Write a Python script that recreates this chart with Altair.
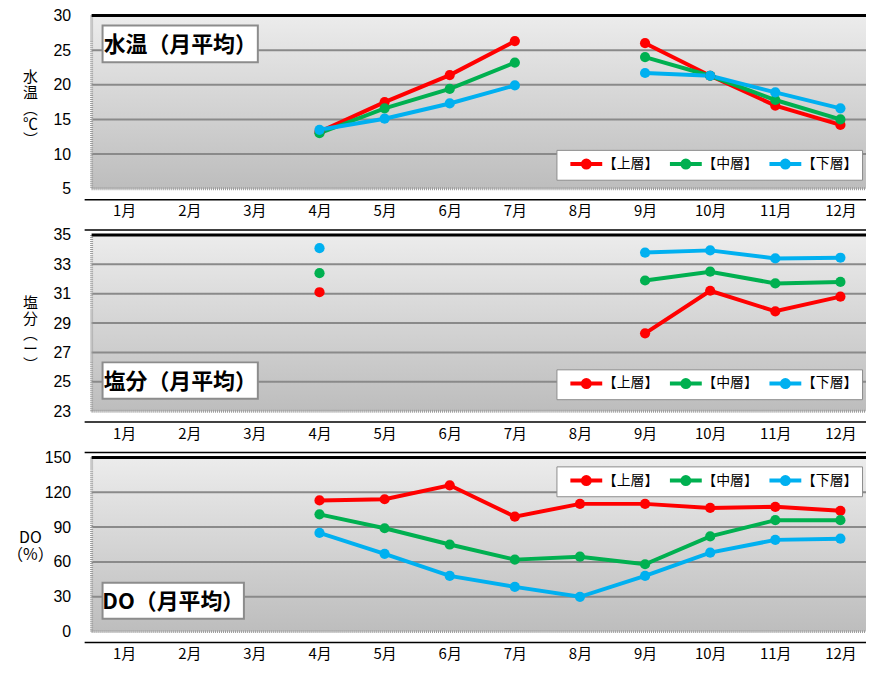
import altair as alt
import pandas as pd

# ---------------- data ----------------
months = ["1月", "2月", "3月", "4月", "5月", "6月", "7月", "8月", "9月", "10月", "11月", "12月"]
series = ["【上層】", "【中層】", "【下層】"]
colors = ["#ff0000", "#00b050", "#00b0f0"]

temp_upper = [None, None, None, 13.2, 17.5, 21.4, 26.3, None, 26.0, 21.3, 17.0, 14.2]
temp_middle = [None, None, None, 13.0, 16.6, 19.4, 23.2, None, 24.0, 21.3, 17.8, 15.0]
temp_lower = [None, None, None, 13.5, 15.1, 17.3, 19.9, None, 21.7, 21.3, 18.9, 16.6]

sal_upper = [None, None, None, 31.1, None, None, None, None, 28.3, 31.2, 29.8, 30.8]
sal_middle = [None, None, None, 32.4, None, None, None, None, 31.9, 32.5, 31.7, 31.8]
sal_lower = [None, None, None, 34.1, None, None, None, None, 33.8, 33.95, 33.4, 33.45]

do_upper = [None, None, None, 113, 114, 126, 99, 110, 110, 106.5, 107.5, 104]
do_middle = [None, None, None, 101, 89, 75, 62, 64.5, 58, 82, 96, 96]
do_lower = [None, None, None, 85, 67, 48, 38.5, 30, 48, 68, 79, 80]

temp_ticks = [5, 10, 15, 20, 25, 30]
sal_ticks = [23, 25, 27, 29, 31, 33, 35]
do_ticks = [0, 30, 60, 90, 120, 150]

FONT = "Noto Sans CJK JP"
NUMFONT = "Liberation Sans"
W = 785

# legend symbol: line from 0..4 units with a filled dot at 2 units
LEGEND_PATH = ("M0,0L4,0"
               "M1.81,0a0.19,0.19 0 1,0 0.38,0a0.19,0.19 0 1,0 -0.38,0"
               "M1.56,0a0.44,0.44 0 1,0 0.88,0a0.44,0.44 0 1,0 -0.88,0")


def long_df(vals_list):
    rows = []
    for name, vals in zip(series, vals_list):
        seg = 0
        prev_missing = True
        for m, v in zip(months, vals):
            if v is None:
                prev_missing = True
                continue
            if prev_missing:
                seg += 1
            prev_missing = False
            rows.append({"month": m, "series": name, "value": v, "seg": f"{name}{seg}"})
    return pd.DataFrame(rows)


def panel(df, ticks, H, ytitle, title_x, title_y, line_h, title_fs, box, title_text,
          legend_xy, top_line=False):
    one = pd.DataFrame({"k": [0]})
    ydef = alt.Y(
        "value:Q",
        scale=alt.Scale(domain=[ticks[0], ticks[-1]], nice=False, zero=False),
        axis=alt.Axis(
            values=ticks, grid=False, domain=False, ticks=False,
            labelPadding=21, labelFontSize=16, labelFont=NUMFONT,
            labelColor="black", labelFlush=False,
            title=ytitle, titleAngle=0, titleAlign="center",
            titleBaseline="top", titleX=title_x, titleY=title_y,
            titleFontSize=title_fs, titleFontWeight="normal", titleFont=FONT,
            titleColor="black", titleLineHeight=line_h,
        ),
    )
    xdef = alt.X(
        "month:O",
        sort=months,
        scale=alt.Scale(type="point", domain=months, padding=0.5),
        axis=alt.Axis(domain=False, ticks=False, grid=False, offset=11,
                      labelPadding=4, labelFontSize=15, labelFont=FONT,
                      labelAngle=0, labelColor="black", title=None),
    )
    cscale = alt.Scale(domain=series, range=colors)

    bg = alt.Chart(one).mark_rect(
        fill=alt.Gradient(
            gradient="linear",
            stops=[alt.GradientStop(color="#ececec", offset=0),
                   alt.GradientStop(color="#bdbdbd", offset=1)],
            x1=0, x2=0, y1=0, y2=1),
    ).encode(x=alt.value(0), x2=alt.value(W), y=alt.value(0), y2=alt.value(H))

    grid = alt.Chart(pd.DataFrame({"value": ticks[1:-1]})).mark_rule(
        color="#8a8a8a", strokeWidth=2
    ).encode(y=ydef, x=alt.value(0), x2=alt.value(W))

    bottom = alt.Chart(one).mark_rule(color="#9c9c9c", strokeWidth=3, strokeDash=[1, 1]).encode(
        x=alt.value(0), x2=alt.value(W), y=alt.value(H))
    left = alt.Chart(one).mark_rule(color="#9c9c9c", strokeWidth=3, strokeDash=[1, 1]).encode(
        x=alt.value(0), y=alt.value(0), y2=alt.value(H))
    top = alt.Chart(one).mark_rule(color="black", strokeWidth=3).encode(
        x=alt.value(0), x2=alt.value(W), y=alt.value(0))
    xline = alt.Chart(one).mark_rule(color="black", strokeWidth=1.5).encode(
        x=alt.value(-7), x2=alt.value(W), y=alt.value(H + 11))

    lines = alt.Chart(df).mark_line(strokeWidth=4).encode(
        x=xdef, y=ydef,
        color=alt.Color(
            "series:N", scale=cscale,
            legend=alt.Legend(
                orient="none", legendX=legend_xy[0], legendY=legend_xy[1],
                direction="horizontal", title=None,
                fillColor="white", strokeColor="#8c8c8c", padding=4,
                symbolType=LEGEND_PATH, symbolSize=256, symbolStrokeWidth=4,
                labelFontSize=14, labelFont=FONT, labelColor="black",
                labelOffset=22.5, columnPadding=1,
            )),
        detail="seg:N",
    )
    points = alt.Chart(df).mark_circle(size=105, opacity=1).encode(
        x=xdef, y=ydef,
        color=alt.Color("series:N", scale=cscale, legend=None),
    )

    bx0, by0, bx1, by1 = box
    tbox = alt.Chart(one).mark_rect(fill="white", stroke="#8c8c8c", strokeWidth=2).encode(
        x=alt.value(bx0), x2=alt.value(bx1), y=alt.value(by0), y2=alt.value(by1))
    ttext = alt.Chart(one).mark_text(
        text=title_text, font=FONT, fontSize=22, fontWeight="bold", color="black",
        align="center", baseline="middle",
    ).encode(x=alt.value((bx0 + bx1) / 2), y=alt.value((by0 + by1) / 2 + 1))

    layers = [bg, grid, bottom, left, top, xline]
    if top_line:
        layers.append(alt.Chart(one).mark_rule(color="black", strokeWidth=1.5).encode(
            x=alt.value(-7), x2=alt.value(W), y=alt.value(-5)))
    layers += [lines, points, tbox, ttext]
    return alt.layer(*layers).properties(width=W, height=H)


p1 = panel(long_df([temp_upper, temp_middle, temp_lower]), temp_ticks, 174,
           ["水", "温", "︵", "℃", "︶"], -62, 54, 16, 15,
           (11, 10, 167, 47), "水温（月平均）", (467, 135))
p2 = panel(long_df([sal_upper, sal_middle, sal_lower]), sal_ticks, 177,
           ["塩", "分", "︵", "ー", "︶"], -62, 61, 15.5, 15,
           (11, 128, 167, 164.5), "塩分（月平均）", (467, 135), top_line=True)
p3 = panel(long_df([do_upper, do_middle, do_lower]), do_ticks, 175,
           ["DO", "（%）"], -62, 72, 18, 16,
           (11, 126, 153, 162), "DO（月平均）", (467, 9), top_line=True)

chart = alt.vconcat(p1, p2, p3, spacing=8.5).resolve_scale(
    color="independent"
).properties(
    padding={"left": -2, "top": -2, "right": -9, "bottom": 0},
).configure(font=FONT).configure_view(stroke=None)

chart.save("out.html", embed_options={"renderer": "svg", "actions": False})
